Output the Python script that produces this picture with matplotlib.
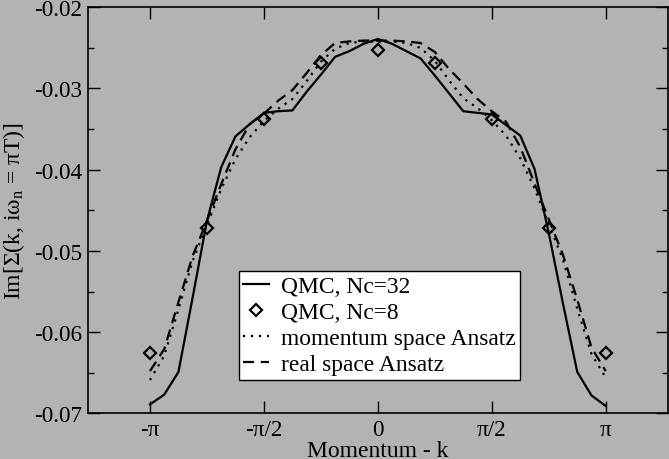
import numpy as np
import matplotlib
matplotlib.use('Agg')
import matplotlib.pyplot as plt
from matplotlib.ticker import MultipleLocator

# k grid in units of pi/16, from -pi to pi
k = np.linspace(-np.pi, np.pi, 33)

qmc32 = [-0.0689, -0.0677, -0.0649, -0.0557, -0.0463, -0.0397, -0.0359, -0.0344,
         -0.0330, -0.0328, -0.0327, -0.0304, -0.0283, -0.0261, -0.0254, -0.0245,
         -0.0239,
         -0.0245, -0.0254, -0.0263, -0.0284, -0.0306, -0.0328, -0.0330, -0.0332,
         -0.0345, -0.0358, -0.0399, -0.0478, -0.0565, -0.0649, -0.0678, -0.0691]

momentum_ansatz = [-0.0659, -0.0629, -0.0572, -0.0512, -0.0468, -0.0424, -0.0387, -0.0360,
                   -0.0340, -0.0325, -0.0313, -0.0291, -0.0267, -0.0251, -0.0244, -0.0242,
                   -0.0243,
                   -0.0242, -0.0244, -0.0250, -0.0266, -0.0290, -0.0312, -0.0324, -0.0339,
                   -0.0358, -0.0386, -0.0423, -0.0467, -0.0511, -0.0571, -0.0627, -0.0656]

real_ansatz = [-0.0648, -0.0621, -0.0563, -0.0506, -0.0463, -0.0418, -0.0375, -0.0344,
               -0.0331, -0.0315, -0.0302, -0.0281, -0.0259, -0.0244, -0.0242, -0.0241,
               -0.0241,
               -0.0241, -0.0242, -0.0244, -0.0255, -0.0276, -0.0294, -0.0313, -0.0328,
               -0.0341, -0.0372, -0.0417, -0.0461, -0.0505, -0.0560, -0.0619, -0.0648]

k8 = np.linspace(-np.pi, np.pi, 9)
qmc8 = [-0.0626, -0.0472, -0.0338, -0.0269, -0.0253, -0.0269, -0.0338, -0.0472, -0.0626]

xticks = [-np.pi, -np.pi/2, 0, np.pi/2, np.pi]
xlabels = ['-π', '-π/2', '0', 'π/2', 'π']

plt.rcParams['font.family'] = ['Liberation Serif', 'DejaVu Serif']
plt.rcParams['mathtext.fontset'] = 'custom'
plt.rcParams['mathtext.rm'] = 'Liberation Serif'
plt.rcParams['mathtext.it'] = 'Liberation Serif'

bg = '#b3b3b3'
fig = plt.figure(figsize=(6.69, 4.60), dpi=100, facecolor=bg)
ax = fig.add_axes([0.1311, 0.0993, 0.8674, 0.8827], facecolor=bg)

ax.plot(k, qmc32, color='black', lw=1.6, ls='-', label='QMC, Nc=32')
ax.plot(k8, qmc8, ls='none', marker='D', ms=6.5, mfc='none', mec='black', mew=1.6,
        label='QMC, Nc=8')
ax.plot(k, momentum_ansatz, color='black', lw=1.6, ls=(0, (1, 2.6)),
        label='momentum space Ansatz')
ax.plot(k, real_ansatz, color='black', lw=1.6, ls=(0, (5, 3)),
        label='real space Ansatz')

ax.set_xlim(-4, 4)
ax.set_ylim(-0.07, -0.02)
ax.set_xticks(xticks)
ax.set_xticklabels(xlabels)
ax.yaxis.set_major_locator(MultipleLocator(0.01))
ax.yaxis.set_minor_locator(MultipleLocator(0.005))
ax.set_yticklabels(['%.2f' % v for v in ax.get_yticks()])

ax.tick_params(which='both', direction='in', top=True, right=True, width=1, labelsize=16.7)
ax.tick_params(axis='y', pad=4)
ax.tick_params(axis='x', pad=4)
ax.tick_params(which='major', length=8.6)
ax.tick_params(which='minor', length=4.3)
for s in ax.spines.values():
    s.set_linewidth(1.2)

ax.set_xlabel('Momentum - k', fontsize=17)
ax.xaxis.set_label_coords(0.5, -0.066, transform=ax.transAxes)
ax.xaxis.label.set_va('top')
ax.set_ylabel('Im[Σ(k, iω$_\\mathrm{n}$ = πT)]', fontsize=17)
ax.yaxis.set_label_coords(-0.104, 0.5)

leg = ax.legend(loc='lower left', bbox_to_anchor=(0.260, 0.082), fontsize=16.9,
                frameon=True, fancybox=False, framealpha=1, edgecolor='black',
                handlelength=1.1, handletextpad=0.5, labelspacing=0.2,
                borderpad=0.2, borderaxespad=0)
leg.get_frame().set_linewidth(1)

fig.savefig('out.png', dpi=100, facecolor=bg)
